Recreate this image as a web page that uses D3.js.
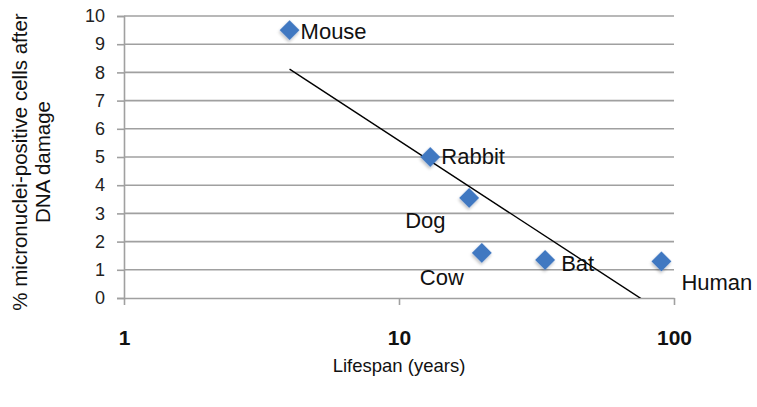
<!DOCTYPE html>
<html>
<head>
<meta charset="utf-8">
<script src="https://cdn.jsdelivr.net/npm/d3@7"></script>
<style>
  body { margin: 0; background: #fff; }
  svg { font-family: "Liberation Sans", Arial, sans-serif; }
</style>
</head>
<body>
<svg id="chart"></svg>
<script>
// Data
const species = ["Mouse", "Rabbit", "Dog", "Cow", "Bat", "Human"]
const lifespan = [4, 13, 18, 20, 34, 90]
const micronuclei = [9.5, 5, 3.55, 1.6, 1.35, 1.3]
const yTicks = [0, 1, 2, 3, 4, 5, 6, 7, 8, 9, 10]
const xTicks = [1, 10, 100]

// Label placement (pixels from the marker centre)
const labelOffset = {
  Mouse: [11, 1], Rabbit: [11, -1], Dog: [-64, 22],
  Cow: [-62, 24], Bat: [16, 3], Human: [20, 21]
}

const width = 757
const height = 407
const margin = { top: 16, right: 83, bottom: 109, left: 124 }

const svg = d3.select("#chart")
  .attr("width", width)
  .attr("height", height)

const x = d3.scaleLog()
  .domain([1, 100])
  .range([margin.left, width - margin.right])

const y = d3.scaleLinear()
  .domain([0, 10])
  .range([height - margin.bottom, margin.top])

// Horizontal gridlines
svg.append("g")
  .selectAll("line")
  .data(yTicks.filter(d => d > 0))
  .join("line")
  .attr("x1", x(1))
  .attr("x2", x(100))
  .attr("y1", d => y(d))
  .attr("y2", d => y(d))
  .attr("stroke", "#a0a0a0")
  .attr("stroke-width", 1.6)

// Y axis
svg.append("g")
  .attr("transform", `translate(${x(1)},0)`)
  .call(d3.axisLeft(y).tickValues(yTicks).tickSize(7).tickPadding(12))
  .call(g => g.selectAll("path, line").attr("stroke", "#a0a0a0").attr("stroke-width", 1.6))
  .call(g => g.selectAll(".tick text")
    .attr("font-family", "Liberation Sans, Arial, sans-serif")
    .attr("font-size", 18)
    .attr("fill", "#222"))

// X axis
svg.append("g")
  .attr("transform", `translate(0,${y(0)})`)
  .call(d3.axisBottom(x).tickValues(xTicks).tickFormat(d3.format("d"))
    .tickSize(7).tickSizeOuter(0).tickPadding(25))
  .call(g => g.selectAll("path, line").attr("stroke", "#a0a0a0").attr("stroke-width", 1.6))
  .call(g => g.selectAll(".tick text")
    .attr("font-family", "Liberation Sans, Arial, sans-serif")
    .attr("font-size", 21)
    .attr("font-weight", "bold")
    .attr("fill", "#111"))

// Logarithmic trendline (least squares on log10 of lifespan)
const lx = lifespan.map(Math.log10)
const mx = d3.mean(lx)
const my = d3.mean(micronuclei)
const slope = d3.sum(lx, (v, i) => (v - mx) * (micronuclei[i] - my)) /
  d3.sum(lx, v => (v - mx) ** 2)
const intercept = my - slope * mx
const trend = d => intercept + slope * Math.log10(d)

svg.append("clipPath")
  .attr("id", "plot-clip")
  .append("rect")
  .attr("x", x(1))
  .attr("y", y(10))
  .attr("width", x(100) - x(1))
  .attr("height", y(0) - y(10))

const x0 = d3.min(lifespan)
const x1 = d3.max(lifespan)
svg.append("line")
  .attr("clip-path", "url(#plot-clip)")
  .attr("x1", x(x0))
  .attr("y1", y(trend(x0)))
  .attr("x2", x(x1))
  .attr("y2", y(trend(x1)))
  .attr("stroke", "#000")
  .attr("stroke-width", 1.4)

// Soft shadow for the markers
const filter = svg.append("defs").append("filter")
  .attr("id", "shadow")
  .attr("x", "-50%").attr("y", "-50%")
  .attr("width", "200%").attr("height", "200%")
filter.append("feDropShadow")
  .attr("dx", 1).attr("dy", 2)
  .attr("stdDeviation", 1.5)
  .attr("flood-color", "#000")
  .attr("flood-opacity", 0.25)

const points = svg.append("g")
  .selectAll("g")
  .data(species)
  .join("g")
  .attr("transform", (d, i) => `translate(${x(lifespan[i])},${y(micronuclei[i])})`)

points.append("path")
  .attr("d", d3.symbol(d3.symbolSquare, 200))
  .attr("transform", "rotate(45)")
  .attr("fill", "#3f78c1")
  .attr("filter", "url(#shadow)")

points.append("text")
  .attr("x", d => labelOffset[d][0])
  .attr("y", d => labelOffset[d][1])
  .attr("dy", "0.35em")
  .attr("font-size", 22)
  .attr("fill", "#111")
  .text(d => d)

// Axis titles
svg.append("text")
  .attr("x", (x(1) + x(100)) / 2)
  .attr("y", 372)
  .attr("text-anchor", "middle")
  .attr("font-size", 18.5)
  .attr("fill", "#111")
  .text("Lifespan (years)")

const yTitle = svg.append("text")
  .attr("transform", "translate(0,162) rotate(-90)")
  .attr("text-anchor", "middle")
  .attr("font-size", 20.5)
  .attr("fill", "#111")
yTitle.append("tspan").attr("x", 0).attr("y", 27).text("% micronuclei-positive cells after")
yTitle.append("tspan").attr("x", 0).attr("y", 50).text("DNA damage")
</script>
</body>
</html>
